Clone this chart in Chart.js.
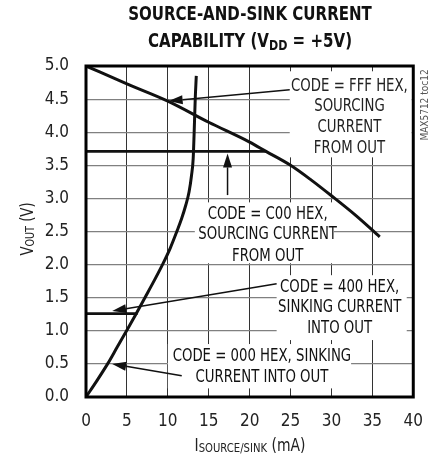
<!DOCTYPE html>
<html>
<head>
<meta charset="utf-8">
<script src="https://cdn.jsdelivr.net/npm/chart.js@4/dist/chart.umd.min.js"></script>
<style>
  html, body { margin: 0; padding: 0; background: #fff; }
  #wrap { width: 437px; height: 459px; }
</style>
</head>
<body>
<div id="wrap"><canvas id="chart" width="437" height="459"></canvas></div>
<script>
(() => {
  const FONT = '"Liberation Sans Narrow", "DejaVu Sans Condensed", "Liberation Sans", sans-serif';

  // values (current in mA, output voltage in V)
  const fffCurrent = [0, 5, 10, 15, 20, 22, 25, 27.5, 30, 33, 35.9];
  const fffVout = [5.0, 4.73, 4.47, 4.15, 3.85, 3.71, 3.5, 3.28, 3.04, 2.74, 2.42];

  const c00Current = [0, 5, 10, 15, 20, 22];
  const c00Vout = [3.71, 3.71, 3.71, 3.71, 3.71, 3.71];

  const h400Current = [0, 3, 6.3];
  const h400Vout = [1.26, 1.26, 1.26];

  const zeroCurrent = [0, 1.3, 2.64, 3.8, 4.96, 6.1, 7.2, 8.3, 9.35, 10.3, 11.1, 11.7, 12.2, 12.6, 12.9, 13.1, 13.22, 13.35, 13.48];
  const zeroVout = [0, 0.24, 0.5, 0.75, 1.0, 1.25, 1.5, 1.75, 2.0, 2.25, 2.5, 2.7, 2.9, 3.1, 3.35, 3.6, 4.0, 4.5, 4.85];

  const xTicks = [0, 5, 10, 15, 20, 25, 30, 35, 40];
  const yTicks = [0, 0.5, 1, 1.5, 2, 2.5, 3, 3.5, 4, 4.5, 5];

  // callouts, in data units
  const notes = [
    {
      lines: ['CODE = FFF HEX,', 'SOURCING', 'CURRENT', 'FROM OUT'],
      cx: 32.2, ys: [4.70, 4.39, 4.07, 3.75],
      box: [24.9, 39.8, 4.92, 3.62],
      arrow: [24.9, 4.64, 10.1, 4.47],
    },
    {
      lines: ['CODE = C00 HEX,', 'SOURCING CURRENT', 'FROM OUT'],
      cx: 22.2, ys: [2.76, 2.45, 2.13],
      box: [13.3, 30.3, 2.94, 2.02],
      arrow: [17.3, 3.05, 17.3, 3.68],
    },
    {
      lines: ['CODE = 400 HEX,', 'SINKING CURRENT', 'INTO OUT'],
      cx: 31.0, ys: [1.66, 1.35, 1.04],
      box: [23.3, 39.2, 1.84, 0.86],
      arrow: [23.3, 1.71, 3.2, 1.30],
    },
    {
      lines: ['CODE = 000 HEX, SINKING', 'CURRENT INTO OUT'],
      cx: 21.5, ys: [0.62, 0.30],
      box: [10.0, 32.4, 0.80, 0.13],
      arrow: [11.7, 0.32, 3.2, 0.50],
    },
  ];

  const toPoints = (xs, ys) => xs.map((x, i) => ({ x, y: ys[i] }));

  // centred text run made of parts (for subscripts), squeezed horizontally by sx
  function drawParts(ctx, parts, x, y, sx) {
    let total = 0;
    parts.forEach((p) => {
      ctx.font = p.font;
      total += ctx.measureText(p.t).width;
    });
    ctx.save();
    ctx.translate(x, y);
    ctx.scale(sx, 1);
    let cur = -total / 2;
    ctx.textAlign = 'left';
    parts.forEach((p) => {
      ctx.font = p.font;
      ctx.fillText(p.t, cur, p.dy || 0);
      cur += ctx.measureText(p.t).width;
    });
    ctx.restore();
  }

  function drawArrow(ctx, x1, y1, x2, y2) {
    const ang = Math.atan2(y2 - y1, x2 - x1);
    const len = 14;
    const half = 4.5;
    const bx = x2 - len * Math.cos(ang);
    const by = y2 - len * Math.sin(ang);
    ctx.beginPath();
    ctx.moveTo(x1, y1);
    ctx.lineTo(bx, by);
    ctx.lineWidth = 1.5;
    ctx.strokeStyle = '#111';
    ctx.stroke();
    ctx.beginPath();
    ctx.moveTo(x2, y2);
    ctx.lineTo(bx + half * Math.sin(ang), by - half * Math.cos(ang));
    ctx.lineTo(bx - half * Math.sin(ang), by + half * Math.cos(ang));
    ctx.closePath();
    ctx.fillStyle = '#111';
    ctx.fill();
  }

  const decor = {
    id: 'decor',
    beforeDatasetsDraw(chart) {
      const { ctx, scales: { x, y } } = chart;
      ctx.save();
      ctx.fillStyle = '#fff';
      notes.forEach((n) => {
        const [x0, x1, y0, y1] = n.box;
        const px0 = x.getPixelForValue(x0);
        const px1 = x.getPixelForValue(x1);
        const py0 = y.getPixelForValue(y0);
        const py1 = y.getPixelForValue(y1);
        ctx.fillRect(px0, py0, px1 - px0, py1 - py0);
      });
      ctx.restore();
    },
    afterDatasetsDraw(chart) {
      const { ctx, chartArea: a, scales: { x, y } } = chart;
      ctx.save();

      // frame
      ctx.strokeStyle = '#000';
      ctx.lineWidth = 3;
      ctx.strokeRect(a.left, a.top, a.right - a.left, a.bottom - a.top);

      // callouts
      ctx.fillStyle = '#222';
      ctx.textBaseline = 'middle';
      notes.forEach((n) => {
        n.lines.forEach((line, i) => {
          drawParts(ctx, [{ t: line, font: `18px ${FONT}` }],
            x.getPixelForValue(n.cx), y.getPixelForValue(n.ys[i]), 0.82);
        });
        const [ax1, ay1, ax2, ay2] = n.arrow;
        drawArrow(ctx, x.getPixelForValue(ax1), y.getPixelForValue(ay1),
          x.getPixelForValue(ax2), y.getPixelForValue(ay2));
      });

      // title
      ctx.fillStyle = '#111';
      const big = `bold 19px ${FONT}`;
      const sub = `bold 14px ${FONT}`;
      drawParts(ctx, [{ t: 'SOURCE-AND-SINK CURRENT', font: big }], 250, 15, 0.88);
      drawParts(ctx, [
        { t: 'CAPABILITY (V', font: big },
        { t: 'DD', font: sub, dy: 4 },
        { t: ' = +5V)', font: big },
      ], 250, 42, 0.88);

      // x axis title
      ctx.fillStyle = '#222';
      drawParts(ctx, [
        { t: 'I', font: `18px ${FONT}` },
        { t: 'SOURCE/SINK', font: `13px ${FONT}`, dy: 3 },
        { t: ' (mA)', font: `18px ${FONT}` },
      ], 250, 446, 0.86);

      // y axis title
      ctx.save();
      ctx.translate(28, 229);
      ctx.rotate(-Math.PI / 2);
      drawParts(ctx, [
        { t: 'V', font: `18px ${FONT}` },
        { t: 'OUT', font: `13px ${FONT}`, dy: 3 },
        { t: ' (V)', font: `18px ${FONT}` },
      ], 0, 0, 0.82);
      ctx.restore();

      // figure tag
      ctx.save();
      ctx.translate(425, 105);
      ctx.rotate(-Math.PI / 2);
      ctx.fillStyle = '#555';
      drawParts(ctx, [{ t: 'MAX5712 toc12', font: `10px ${FONT}` }], 0, 0, 1);
      ctx.restore();

      ctx.restore();
    },
  };

  const line = (data, width) => ({
    data,
    showLine: true,
    borderColor: '#111',
    borderWidth: width,
    pointRadius: 0,
    cubicInterpolationMode: 'monotone',
    fill: false,
  });

  new Chart(document.getElementById('chart'), {
    type: 'scatter',
    data: {
      datasets: [
        line(toPoints(fffCurrent, fffVout), 3),
        line(toPoints(c00Current, c00Vout), 2.6),
        line(toPoints(h400Current, h400Vout), 2.6),
        line(toPoints(zeroCurrent, zeroVout), 3),
      ],
    },
    options: {
      responsive: false,
      animation: false,
      devicePixelRatio: 1,
      layout: { padding: { top: 66, right: 23, left: 0, bottom: 0 } },
      plugins: {
        legend: { display: false },
        tooltip: { enabled: false },
      },
      scales: {
        x: {
          type: 'linear',
          min: 0,
          max: 40,
          afterBuildTicks(scale) { scale.ticks = xTicks.map((value) => ({ value })); },
          afterFit(scale) { scale.height = 62; },
          ticks: { color: '#222', font: { family: FONT, size: 17 }, padding: 14 },
          grid: { color: '#333', lineWidth: 1, drawTicks: false },
          border: { display: false },
        },
        y: {
          type: 'linear',
          min: 0,
          max: 5,
          afterBuildTicks(scale) { scale.ticks = yTicks.map((value) => ({ value })); },
          afterFit(scale) { scale.width = 86; },
          ticks: {
            color: '#222',
            font: { family: FONT, size: 17 },
            padding: 17,
            callback(value) { return Number(value).toFixed(1); },
          },
          grid: { color: '#808080', lineWidth: 1.2, drawTicks: false },
          border: { display: false },
        },
      },
    },
    plugins: [decor],
  });
})();
</script>
</body>
</html>
